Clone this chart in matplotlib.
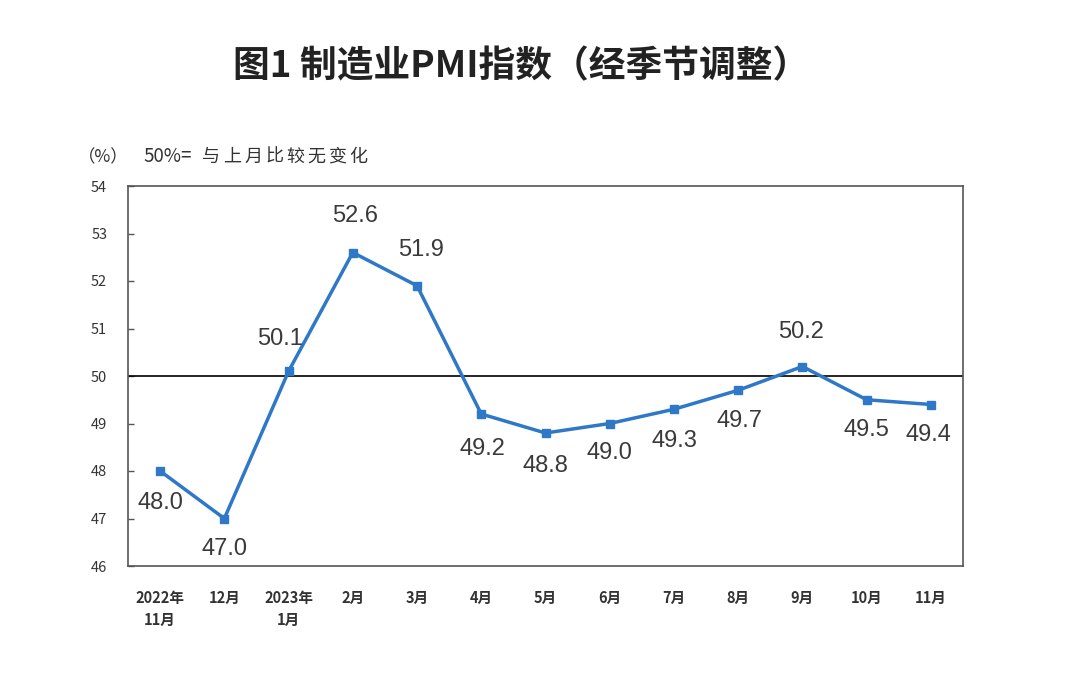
import matplotlib
matplotlib.use("Agg")
import matplotlib.pyplot as plt

categories = ["2022年\n11月", "12月", "2023年\n1月", "2月", "3月", "4月", "5月",
              "6月", "7月", "8月", "9月", "10月", "11月"]
values = [48.0, 47.0, 50.1, 52.6, 51.9, 49.2, 48.8, 49.0, 49.3, 49.7, 50.2, 49.5, 49.4]
yticks = [46, 47, 48, 49, 50, 51, 52, 53, 54]
note_prefix = "50%="
note_chars = ["与", "上", "月", "比", "较", "无", "变", "化"]
# label offsets in points (dx, dy)
label_offsets = [(0, -23), (0, -22), (-6, 23), (2, 26), (3, 26), (1, -25), (0, -24),
                 (0, -21), (0, -23), (1, -22), (-1, 25), (0, -22), (-2, -22)]

plt.rcParams['font.family'] = ['Liberation Sans', 'Noto Sans CJK SC', 'DejaVu Sans']
CJK = ['Noto Sans CJK SC', 'DejaVu Sans']

W, H = 1080, 674
fig = plt.figure(figsize=(10.8, 6.74), dpi=100)
ax = fig.add_axes([128 / W, 1 - 566 / H, (963 - 128) / W, (566 - 186) / H])

x = list(range(len(values)))
ax.plot(x, values, color="#2F78C8", lw=2.5, marker="s", markersize=6, zorder=3)
ax.axhline(50, color="black", lw=1.2, zorder=2)

for xi, v, (dx, dy) in zip(x, values, label_offsets):
    ax.annotate(f"{v:.1f}", (xi, v), xytext=(dx, dy), textcoords="offset points",
                ha="center", va="center", fontsize=17, color="#3a3a3a")

ax.set_xlim(-0.5, len(values) - 0.5)
ax.set_ylim(46, 54)
ax.set_yticks(yticks)
ax.set_yticklabels([str(t) for t in yticks], fontsize=10.5, family=CJK, color="#333333")
ax.set_xticks(x)
ax.set_xticklabels(categories, fontsize=10.5, family=CJK,
                   color="#333333", fontweight="bold", linespacing=1.45)
ax.tick_params(axis="y", direction="in", length=4, width=1, color="#555555", pad=15)
ax.tick_params(axis="x", length=0, pad=17)
for s in ax.spines.values():
    s.set_color("#555555")
    s.set_linewidth(1.2)

fig.text(521 / W, 1 - 67 / H, "图1 制造业PMI指数（经季节调整）", ha="center", va="center",
         fontsize=26.5, fontweight="bold", family=CJK, color="#222222")
fig.text(78 / W, 1 - 157 / H, "（%）", ha="left", va="center", fontsize=12.5,
         family=CJK, color="#333333")
fig.text(143 / W, 1 - 157 / H, note_prefix, ha="left", va="center", fontsize=13.5,
         family=CJK, color="#333333")
for i, ch in enumerate(note_chars):
    fig.text((211 + 21 * i) / W, 1 - 157 / H, ch, ha="center", va="center",
             fontsize=13, family=CJK, color="#333333")

fig.savefig("out.png", dpi=100, facecolor="white")
